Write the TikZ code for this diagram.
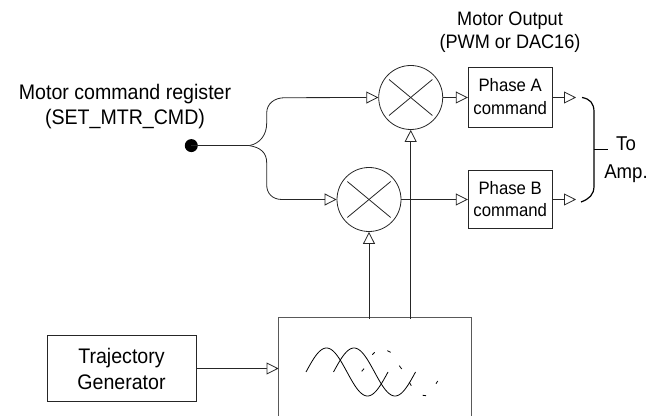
\documentclass[tikz,border=0pt]{standalone}
\usepackage{fontspec}
\setmainfont[FakeStretch=0.93]{Liberation Sans}
\usetikzlibrary{arrows.meta}
\tikzset{
  ln/.style={line width=0.6pt,draw=black!85},
  tri/.style={ln,-{Triangle[open,length=9pt,width=9pt,fill=white]}},
  bx/.style={ln,draw,inner sep=0pt,align=center},
  phasebox/.style={bx,minimum width=63pt,font=\fontsize{13.5}{17}\selectfont},
  mult/.style={ln,draw,circle,minimum size=48pt,inner sep=0pt},
  lbl/.style={align=center,inner sep=0pt},
  bigbox/.style={line width=0.8pt,draw=black!65},
  brk/.style={line width=0.9pt,draw=black},
  thin sine/.style={line width=0.6pt,draw=black}
}
\begin{document}
\begin{tikzpicture}[x=0.75pt,y=-0.75pt]
\useasboundingbox (0,0) rectangle (660,416);
\node[lbl,font=\fontsize{14.6}{17.2}\selectfont] (mo) at (510,32.5) {Motor Output\\(PWM or DAC16)};
\node[lbl,font=\fontsize{15.8}{18.7}\selectfont] (reg) at (125,106.5) {Motor command register\\(SET\_MTR\_CMD)};
\node[fill=black,circle,minimum size=9.75pt,inner sep=0pt] (dot) at (191.3,145.6) {};
\coordinate (br) at (249.3,145.6);
\node[mult] (ma) at (410.7,97.5) {};
\node[mult] (mb) at (369,199.5) {};
\foreach \m in {ma,mb}{
  \draw[ln] ([shift={(-21.7,-18)}]\m.center) -- ([shift={(21.7,18)}]\m.center);
  \draw[ln] ([shift={(-21.7,18)}]\m.center) -- ([shift={(21.7,-18)}]\m.center);
}
\node[phasebox,minimum height=44.5pt] (pa) at (510.2,97.5) {\raisebox{1.5pt}{Phase A}\\\raisebox{1.5pt}{command}};
\node[phasebox,minimum height=44pt] (pb) at (510.2,199.5) {\raisebox{1pt}{Phase B}\\\raisebox{1pt}{command}};
\node[bx,minimum width=111.75pt,minimum height=50pt,font=\fontsize{15.8}{19.5}\selectfont] (tg) at (121.5,368.5) {Trajectory\\Generator};
% connectors
\draw[ln,line width=0.8pt] (dot.center) -- (br);
\draw[tri] (br) .. controls (260,143.5) and (266.7,135) .. (266.7,123) -- (266.7,113) .. controls (266.7,104) and (274,97.7) .. (285,97.7) -- (ma.west);
\draw[tri] (br) .. controls (260,147.5) and (266.7,152) .. (266.7,163) -- (266.7,185) .. controls (266.7,193) and (272,199.5) .. (282,199.5) -- (mb.west);
\draw[tri] (ma.east) -- (pa.west);
\draw[tri] (mb.east) -- (pb.west);
\coordinate (oa) at (576,97.5);
\coordinate (ob) at (576,199.5);
\draw[tri] (pa.east) -- (oa);
\draw[tri] (pb.east) -- (ob);
% sine box
\coordinate (sbl) at (278.5,416);
\coordinate (sbr) at (471.7,416);
\draw[bigbox] (sbl) -- (278.5,317.7) -- (471.7,317.7) -- (sbr);
\coordinate (ta) at (410.7,319);
\coordinate (tb) at (369,319);
\draw[tri] (ta) -- (ma.south);
\draw[tri] (tb) -- (mb.south);
\coordinate (tgin) at (278.5,368.5);
\draw[tri] (tg.east) -- (tgin);
% bracket
\draw[brk] (582,97.5) .. controls (590,99) and (594,103) .. (594,112) -- (594,186) .. controls (594,195) and (589,199) .. (581,202);
\coordinate (bm) at (594,149.5);
\coordinate (bt) at (608,149.5);
\draw[brk] (bm) -- (bt);
\node[lbl,font=\fontsize{15}{21}\selectfont] (amp) at (626,160) {To\\Amp.};
% sine curves
\draw[thin sine] plot[domain=0:360,samples=61,smooth] ({306+0.22778*\x},{372-24*sin(\x)});
\draw[thin sine] plot[domain=0:360,samples=61,smooth] ({333.5+0.22778*\x},{372-24*sin(\x)});
% broken trace
\draw[thin sine] (372.3,354.7) -- (374.7,352.3);
\draw[thin sine] (361.7,371.3) -- (364,368.7);
\draw[thin sine] (387.3,350.7) -- (390.7,352.3);
\draw[thin sine] (399.3,365.7) -- (401.7,369);
\draw[thin sine] (409.3,382.3) -- (411.3,385.7);
\draw[thin sine] (422.7,395.3) -- (426,395.7);
\draw[thin sine] (436,383.7) -- (437.7,381);
\end{tikzpicture}
\end{document}
